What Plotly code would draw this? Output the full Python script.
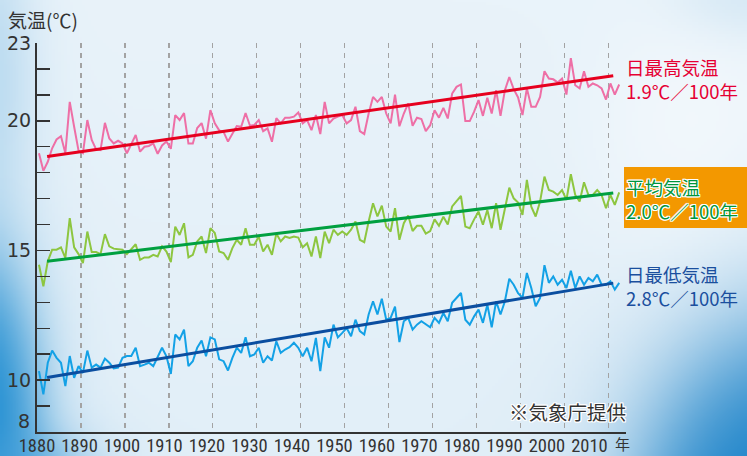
import base64
import struct
import zlib

import numpy as np
import plotly.graph_objects as go

# ---------------- data ----------------
years = list(range(1880, 2013))

tmax = [18.75, 18.07, 18.42, 18.94, 19.28, 19.41, 18.75, 20.73, 19.77, 18.85,
        18.75, 20.03, 19.26, 18.90, 18.87, 19.92, 19.32, 19.13, 19.23, 19.13,
        18.75, 19.13, 19.45, 18.81, 19.00, 19.03, 19.13, 18.73, 19.05, 19.20,
        18.92, 20.22, 20.03, 20.30, 19.12, 19.12, 19.72, 19.91, 19.31, 20.41,
        19.90, 19.63, 19.57, 19.20, 19.53, 19.80, 19.77, 20.30, 19.81, 19.84,
        20.03, 19.60, 19.71, 19.19, 20.10, 19.90, 20.12, 20.12, 20.16, 20.32,
        19.90, 20.03, 19.64, 20.22, 19.49, 20.73, 19.90, 20.09, 20.16, 20.22,
        19.90, 20.03, 20.54, 19.60, 19.49, 20.28, 20.92, 20.73, 20.92, 20.28,
        19.90, 21.01, 19.79, 20.28, 20.67, 19.81, 20.12, 20.07, 19.60, 19.83,
        20.41, 20.12, 20.50, 20.09, 21.05, 21.31, 21.40, 19.99, 19.99, 20.35,
        20.80, 20.19, 20.89, 20.28, 21.18, 20.19, 21.18, 21.69, 21.22, 20.90,
        20.22, 21.25, 20.54, 20.54, 20.92, 21.91, 21.63, 21.60, 21.48, 21.63,
        21.01, 22.42, 21.37, 21.25, 21.91, 21.31, 21.44, 21.37, 21.25, 20.82,
        21.44, 21.01, 21.40]

tmean = [14.45, 13.62, 14.58, 15.03, 15.03, 15.12, 14.71, 16.25, 15.12, 14.86,
         14.51, 15.73, 14.94, 14.94, 14.86, 15.63, 15.16, 15.07, 15.05, 15.03,
         14.86, 15.03, 15.24, 14.64, 14.73, 14.73, 14.83, 14.77, 15.16, 14.96,
         14.55, 15.92, 15.60, 16.05, 14.73, 14.83, 15.35, 15.54, 14.90, 15.86,
         15.67, 14.96, 14.90, 14.64, 15.09, 15.41, 15.22, 15.86, 15.22, 15.22,
         15.54, 14.96, 15.22, 14.83, 15.65, 15.35, 15.54, 15.48, 15.54, 15.50,
         15.12, 15.28, 14.77, 15.54, 14.71, 15.73, 15.28, 15.80, 15.60, 15.73,
         15.60, 15.80, 16.12, 15.41, 15.32, 16.12, 16.82, 16.31, 16.73, 15.92,
         15.73, 16.63, 15.41, 16.05, 16.35, 15.75, 15.95, 15.95, 15.65, 15.75,
         16.20, 15.95, 16.30, 16.00, 16.70, 16.90, 17.10, 15.92, 15.86, 16.20,
         16.50, 15.99, 16.56, 15.86, 16.82, 15.80, 16.60, 17.42, 17.01, 16.85,
         16.37, 17.72, 16.69, 16.31, 16.89, 17.85, 17.33, 17.27, 17.14, 17.33,
         16.95, 17.94, 17.14, 16.89, 17.63, 17.14, 17.14, 17.33, 17.14, 16.63,
         17.14, 16.76, 17.24]

tmin = [10.35, 9.45, 10.67, 11.14, 10.86, 10.67, 9.77, 10.93, 10.09, 10.54,
        10.28, 11.14, 10.48, 10.60, 10.48, 10.83, 10.67, 10.45, 10.48, 10.86,
        10.93, 10.93, 11.25, 10.54, 10.60, 10.67, 10.54, 10.90, 11.25, 10.92,
        10.24, 11.76, 11.57, 11.95, 10.54, 10.73, 11.25, 11.53, 10.92, 11.65,
        11.57, 10.80, 10.73, 10.37, 10.86, 11.25, 11.05, 11.65, 10.92, 10.99,
        11.25, 10.67, 10.92, 10.76, 11.50, 11.05, 11.18, 11.27, 11.44, 11.25,
        10.92, 11.25, 10.73, 11.63, 10.35, 11.65, 11.25, 12.14, 11.65, 11.82,
        12.01, 11.69, 12.33, 11.89, 11.76, 12.53, 13.04, 12.53, 13.14, 12.33,
        12.40, 12.83, 11.47, 12.27, 12.40, 11.95, 12.14, 12.27, 12.14, 12.04,
        12.40, 12.21, 12.59, 12.27, 12.98, 13.17, 13.36, 12.33, 12.14, 12.46,
        12.72, 12.21, 12.91, 12.04, 13.04, 12.53, 13.04, 13.91, 13.68, 13.35,
        13.17, 14.13, 13.55, 12.85, 13.17, 14.43, 13.75, 14.00, 13.68, 13.87,
        13.55, 14.22, 13.55, 14.00, 13.68, 13.94, 13.81, 14.07, 13.68, 13.68,
        13.81, 13.49, 13.75]

trend_years = [1882.3, 2011.1]
trend_max = [18.62, 21.74]
trend_mean = [14.58, 17.22]
trend_min = [10.10, 13.74]

grid_years = list(range(1890, 2011, 10))
xtick_years = list(range(1880, 2011, 10))
xtick_labels = [str(y) for y in xtick_years]
ytick_vals = list(range(8, 24))
ytick_labels = {23: "23", 20: "20", 15: "15", 10: "10"}

# mid-year positions
xmid = [y + 0.45 for y in years]

# ---------------- layout geometry ----------------
W, H = 747, 456
ML, MR, MT, MB = 37, 121, 43, 24
PW, PH = W - ML - MR, H - MT - MB


def px_x(x):
    return (x - ML) / PW


def px_y(y):
    return 1 - (y - MT) / PH


# ---------------- background (soft sky gradient) ----------------
def make_bg(scale=3):
    w, h = W // scale + 1, H // scale + 1
    xs = (np.arange(w) + 0.5) * scale
    ys = (np.arange(h) + 0.5) * scale
    X, Y = np.meshgrid(xs, ys)
    t = Y / H
    top = np.array([233, 243, 250.0])
    bot = np.array([226, 239, 248.0])
    img = top[None, None, :] * (1 - t[..., None]) + bot[None, None, :] * t[..., None]

    def blend(img, color, wgt):
        color = np.array(color, float)
        return img * (1 - wgt[..., None]) + color[None, None, :] * wgt[..., None]

    def blob(cx, cy, sx, sy, k=4.0):
        d = np.sqrt(((X - cx) / sx) ** 2 + ((Y - cy) / sy) ** 2)
        return 1 / (1 + np.exp((d - 1) * k))

    img = blend(img, (246, 250, 253), 0.8 * blob(700, 150, 90, 130, 3))
    img = blend(img, (175, 213, 238), 0.85 * blob(-20, 70, 45, 120, 3))
    img = blend(img, (205, 228, 243), 0.7 * blob(760, -10, 70, 40, 3))
    img = blend(img, (25, 138, 208), blob(-30, 430, 66, 165, 4))
    img = blend(img, (70, 160, 218), 0.8 * blob(10, 490, 70, 45, 3))
    img = blend(img, (22, 128, 200), blob(800, 560, 160, 220, 5))
    return np.clip(img, 0, 255).astype(np.uint8)


def to_png_uri(img):
    h, w, _ = img.shape
    raw = b"".join(b"\x00" + img[r].tobytes() for r in range(h))

    def chunk(tag, data):
        c = struct.pack(">I", len(data)) + tag + data
        return c + struct.pack(">I", zlib.crc32(tag + data) & 0xFFFFFFFF)

    png = (b"\x89PNG\r\n\x1a\n"
           + chunk(b"IHDR", struct.pack(">IIBBBBB", w, h, 8, 2, 0, 0, 0))
           + chunk(b"IDAT", zlib.compress(raw, 9))
           + chunk(b"IEND", b""))
    return "data:image/png;base64," + base64.b64encode(png).decode()


bg_uri = to_png_uri(make_bg())

# ---------------- figure ----------------
fig = go.Figure()

series = [(tmax, "#ee6fa6"), (tmean, "#8dc640"), (tmin, "#13a1e6")]
for vals, col in series:
    fig.add_trace(go.Scatter(x=xmid, y=vals, mode="lines",
                             line=dict(color=col, width=2), hoverinfo="skip"))

trends = [(trend_max, "#e6001e"), (trend_mean, "#00a040"), (trend_min, "#0b4ea0")]
for vals, col in trends:
    fig.add_trace(go.Scatter(x=trend_years, y=vals, mode="lines",
                             line=dict(color=col, width=3), hoverinfo="skip"))

fig.add_trace(go.Scatter(x=[], y=[], xaxis="x2", yaxis="y", showlegend=False,
                         hoverinfo="skip"))

TXT = "#333333"
JP = "Noto Sans CJK JP, Noto Sans, sans-serif"
NUM = "Liberation Sans Narrow, Arial Narrow, Roboto Condensed, Roboto, sans-serif"
OUTLINE = ("1px 1px 0 #fff, -1px -1px 0 #fff, 1px -1px 0 #fff, -1px 1px 0 #fff,"
           " 0 1px 0 #fff, 0 -1px 0 #fff, 1px 0 0 #fff, -1px 0 0 #fff")

fig.update_layout(
    width=W, height=H, autosize=False,
    margin=dict(l=ML, r=MR, t=MT, b=MB, pad=0, autoexpand=False),
    paper_bgcolor="#e6f1f9", plot_bgcolor="rgba(0,0,0,0)",
    showlegend=False, hovermode=False,
    xaxis=dict(range=[1880, 2014], tickvals=grid_years, showticklabels=False,
               ticks="", showgrid=True, gridcolor="#a3a3a3", gridwidth=1.3,
               griddash="5px,5px", showline=True, linecolor=TXT, linewidth=2,
               zeroline=False, fixedrange=True, automargin=False),
    xaxis2=dict(overlaying="x", anchor="y", side="bottom", range=[1880, 2018.6],
                tickvals=xtick_years, ticktext=xtick_labels, ticks="",
                showgrid=False, showline=False, zeroline=False, automargin=False,
                tickfont=dict(family=NUM, size=18.5, color=TXT), fixedrange=True),
    yaxis=dict(range=[8, 23], tickvals=ytick_vals,
               ticktext=[ytick_labels.get(v, "") for v in ytick_vals],
               ticks="inside", ticklen=13, tickwidth=1.5, tickcolor=TXT,
               showgrid=False, zeroline=False, showline=True, linecolor=TXT,
               linewidth=2, automargin=False,
               tickfont=dict(family="DejaVu Sans", size=19, color=TXT),
               fixedrange=True),
    images=[dict(source=bg_uri, xref="paper", yref="paper", x=px_x(0), y=px_y(0),
                 sizex=W / PW, sizey=H / PH, sizing="stretch", layer="below",
                 xanchor="left", yanchor="top")],
)

fig.add_shape(type="rect", xref="paper", yref="paper",
              x0=px_x(624), x1=px_x(760), y0=px_y(228), y1=px_y(167),
              fillcolor="#f39800", line=dict(width=0), layer="above")

labels = [
    ("日最高気温<br>1.9℃／100年", 79, "#e60033", None),
    ("平均気温<br>2.0℃／100年", 198.5, "#00963c", OUTLINE),
    ("日最低気温<br>2.8℃／100年", 285.5, "#1a4f9e", None),
]
for text, ypx, col, shadow in labels:
    font = dict(family=JP, size=18.5, color=col)
    if shadow:
        font["shadow"] = shadow
    fig.add_annotation(text=text, xref="paper", yref="paper", x=px_x(625),
                       y=px_y(ypx), xanchor="left", yanchor="middle", align="left",
                       showarrow=False, font=font, borderpad=0)

fig.add_annotation(text="気温(℃)", xref="paper", yref="paper", x=px_x(6),
                   y=px_y(19), xanchor="left", yanchor="middle", showarrow=False,
                   font=dict(family=JP, size=19, color=TXT))
fig.add_annotation(text="年", xref="paper", yref="paper", x=px_x(622),
                   y=px_y(443), xanchor="center", yanchor="middle",
                   showarrow=False, font=dict(family=JP, size=15, color=TXT))
fig.add_annotation(text="※気象庁提供", xref="paper", yref="paper", x=px_x(628),
                   y=px_y(411), xanchor="right", yanchor="middle",
                   showarrow=False,
                   font=dict(family=JP, size=19.5, color=TXT, shadow=OUTLINE))
fig.add_annotation(text="8", xref="paper", yref="y", x=0, y=8, xanchor="right",
                   yanchor="middle", xshift=-5, yshift=11, showarrow=False,
                   font=dict(family="DejaVu Sans", size=19, color=TXT))

fig.write_html("out.html", config={"displayModeBar": False, "staticPlot": True},
               post_script="document.body.style.margin='0';"
                           "document.body.style.overflow='hidden';")
